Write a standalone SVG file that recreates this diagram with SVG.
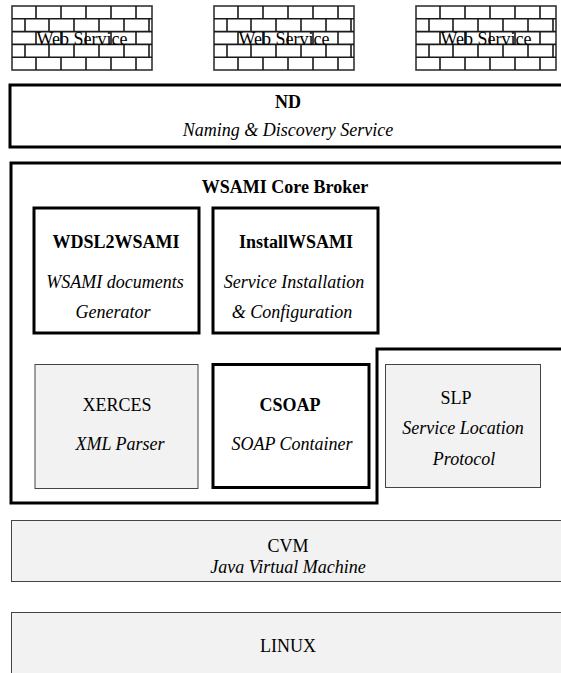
<svg xmlns="http://www.w3.org/2000/svg" xmlns:xlink="http://www.w3.org/1999/xlink" width="561" height="673" viewBox="0 0 561 673" font-family="Liberation Serif, DejaVu Serif, serif">
<style>
text{font-family:'Liberation Serif','DejaVu Serif',serif;font-size:18px;fill:#000;text-anchor:middle}
.b{font-weight:bold}
.i{font-style:italic}
.thick{fill:#fff;stroke:#000;stroke-width:3}
.gray{fill:#f2f2f2;stroke:#444;stroke-width:1}
.brick{fill:none;stroke:#1a1a1a;stroke-width:1.6}
</style>
<defs>
<g id="wall">
<rect x="0" y="0" width="140" height="64" fill="#fff" stroke="#333" stroke-width="1.6"/>
<path class="brick" d="M0,12.8H140M0,25.6H140M0,38.4H140M0,51.2H140
M24,0V12.8M49,0V12.8M74,0V12.8M99,0V12.8M124,0V12.8
M24,25.6V38.4M49,25.6V38.4M74,25.6V38.4M99,25.6V38.4M124,25.6V38.4
M24,51.2V64M49,51.2V64M74,51.2V64M99,51.2V64M124,51.2V64
M13,12.8V25.6M37,12.8V25.6M62,12.8V25.6M87,12.8V25.6M112,12.8V25.6M137,12.8V25.6
M13,38.4V51.2M37,38.4V51.2M62,38.4V51.2M87,38.4V51.2M112,38.4V51.2M137,38.4V51.2"/>
</g>
</defs>
<rect width="561" height="673" fill="#fff"/>
<g id="ws1"><use xlink:href="#wall" href="#wall" x="12" y="6"/><text x="82" y="45">Web Service</text></g>
<g id="ws2"><use xlink:href="#wall" href="#wall" x="214" y="6"/><text x="284" y="45">Web Service</text></g>
<g id="ws3"><use xlink:href="#wall" href="#wall" x="416" y="6"/><text x="486" y="45">Web Service</text></g>
<g id="nd">
<rect class="thick" x="10" y="85" width="560" height="62"/>
<text class="b" x="288" y="108">ND</text>
<text class="i" x="288" y="136">Naming &amp; Discovery Service</text>
</g>
<g id="core">
<path class="thick" d="M11,163H570V349H377V503H11Z"/>
<text class="b" x="285" y="193">WSAMI Core Broker</text>
</g>
<g id="wdsl2wsami">
<rect class="thick" x="34" y="208" width="165" height="125"/>
<text class="b" x="116" y="248">WDSL2WSAMI</text>
<text class="i" x="115" y="288">WSAMI documents</text>
<text class="i" x="113" y="318">Generator</text>
</g>
<g id="installwsami">
<rect class="thick" x="213" y="208" width="165" height="125"/>
<text class="b" x="296" y="248">InstallWSAMI</text>
<text class="i" x="294" y="288">Service Installation</text>
<text class="i" x="292" y="318">&amp; Configuration</text>
</g>
<g id="xerces">
<rect class="gray" x="35" y="364.5" width="163" height="124"/>
<text x="117" y="411">XERCES</text>
<text class="i" x="120" y="450">XML Parser</text>
</g>
<g id="csoap">
<rect class="thick" x="213" y="364.5" width="156" height="123"/>
<text class="b" x="290" y="411">CSOAP</text>
<text class="i" x="292" y="450">SOAP Container</text>
</g>
<g id="slp">
<rect class="gray" x="385.5" y="364.5" width="155" height="123"/>
<text x="456" y="404">SLP</text>
<text class="i" x="463" y="434">Service Location</text>
<text class="i" x="464" y="465">Protocol</text>
</g>
<g id="cvm">
<rect class="gray" x="11.5" y="520.5" width="560" height="61"/>
<text x="288" y="552">CVM</text>
<text class="i" x="288" y="573">Java Virtual Machine</text>
</g>
<g id="linux">
<rect class="gray" x="11.5" y="612.5" width="560" height="70"/>
<text x="288" y="652">LINUX</text>
</g>
<g id="connectors"></g>
</svg>
